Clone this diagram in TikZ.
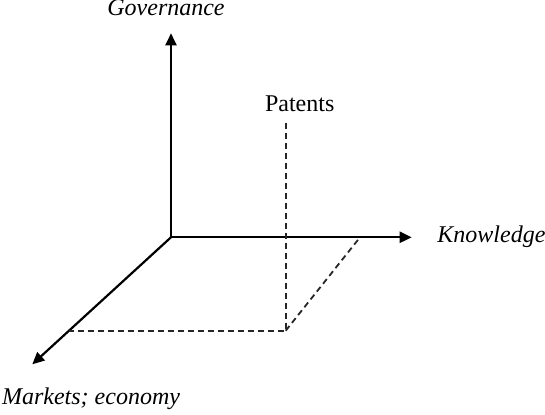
\documentclass[tikz,border=0pt]{standalone}
\usepackage{fontspec}
\setmainfont{Liberation Serif}
\usepackage{tikz}
\tikzset{
  axis/.style={-{Triangle[length=6pt,width=5.5pt]}, line width=1.1pt},
  guide/.style={dash pattern=on 3pt off 2pt, line width=0.9pt, black!85},
  label/.style={inner sep=0pt, font=\fontsize{12}{14}\selectfont}
}
\usetikzlibrary{arrows.meta}

\begin{document}
\begin{tikzpicture}[x=0.5pt, y=-0.5pt]
\useasboundingbox (0,0) rectangle (545,415);
\coordinate (origin) at (171,237.3);
\coordinate (govtip) at (171,33.3);
\coordinate (knowtip) at (411.7,237.3);
\coordinate (mkttip) at (32.3,364.3);
\coordinate (pattop) at (285.7,122.7);
\coordinate (patfoot) at (285.7,330.7);
\coordinate (mktfoot) at (69,330.7);
\coordinate (knowfoot) at (360,237.3);

\node[label, anchor=base] (gov) at (166,16) {\itshape Governance};
\node[label, anchor=base west] (know) at (437,242.3) {\itshape Knowledge};
\node[label, anchor=base west] (mkt) at (1.7,405) {\itshape Markets; economy};
\node[label, anchor=base] (patents) at (299.7,111.7) {Patents};

\draw[axis] (origin) -- (govtip);
\draw[axis] (origin) -- (knowtip);
\draw[axis] (origin) -- (mkttip);
\draw[guide] (pattop) -- (patfoot) -- (mktfoot);
\draw[guide] (patfoot) -- (knowfoot);
\end{tikzpicture}
\end{document}
